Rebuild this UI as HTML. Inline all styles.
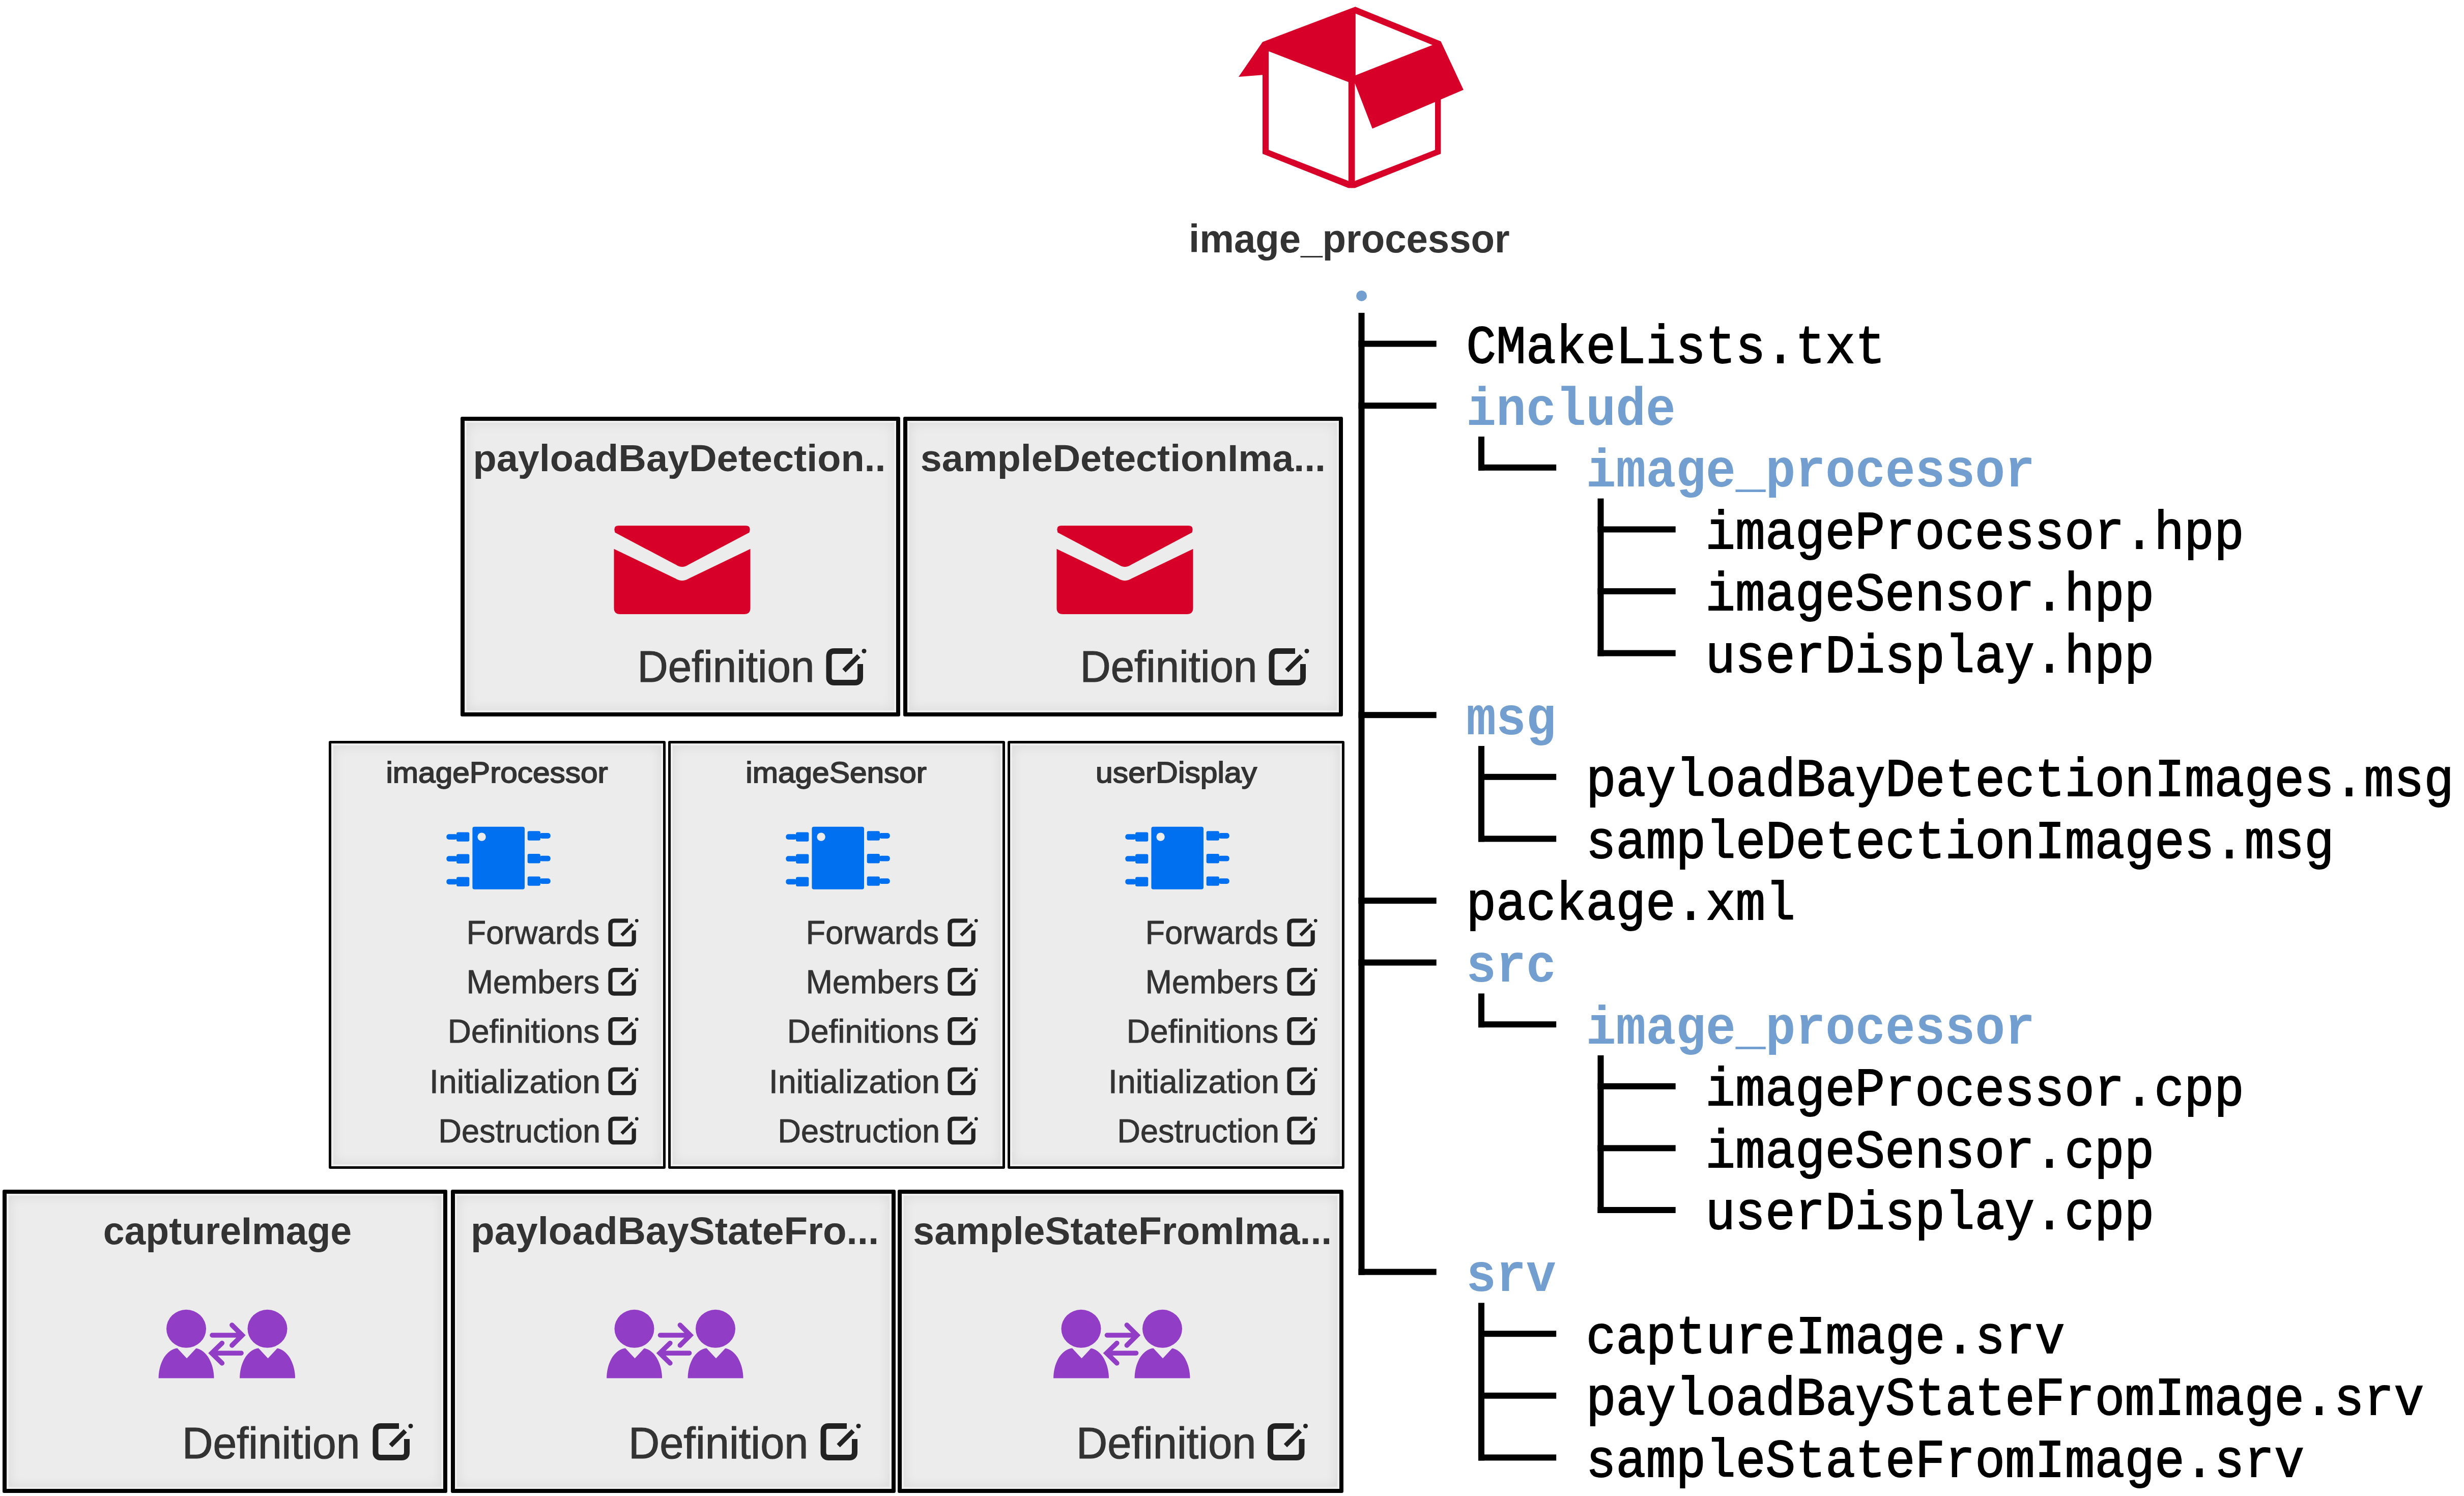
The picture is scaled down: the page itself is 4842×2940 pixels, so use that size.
<!DOCTYPE html>
<html><head><meta charset="utf-8"><style>
html,body{margin:0;padding:0;background:#fff;overflow:hidden;}
body{width:4842px;height:2940px;position:relative;overflow:hidden;}
.bx{position:absolute;box-sizing:border-box;border-style:solid;border-color:#000;border-radius:3px;background:#ececec;
box-shadow: inset 0 0 0 4px #eeeeee, inset 0 0 22px 6px rgba(0,0,0,0.07);}
svg{position:absolute;left:0;top:0;}
</style></head><body>
<div class="bx" style="left:905.0px;top:819.0px;width:864.0px;height:589.0px;border-width:8px"></div><div class="bx" style="left:1775.0px;top:819.0px;width:864.0px;height:589.0px;border-width:8px"></div><div class="bx" style="left:646.0px;top:1456.0px;width:662.0px;height:841.0px;border-width:5.5px"></div><div class="bx" style="left:1313.0px;top:1456.0px;width:662.0px;height:841.0px;border-width:5.5px"></div><div class="bx" style="left:1980.0px;top:1456.0px;width:662.0px;height:841.0px;border-width:5.5px"></div><div class="bx" style="left:5.0px;top:2338.0px;width:874.0px;height:595.5px;border-width:8px"></div><div class="bx" style="left:886.0px;top:2338.0px;width:874.0px;height:595.5px;border-width:8px"></div><div class="bx" style="left:1764.0px;top:2338.0px;width:875.5px;height:595.5px;border-width:8px"></div>
<svg width="4842" height="2940" viewBox="0 0 4842 2940">
<polygon points="2663.3,13.2 2831.4,81.3 2875.9,176.5 2831.4,195.6 2831.4,302.2 2662.5,369.5 2649.8,369.5 2481.0,302.2 2481.0,147.3 2434.0,151.1 2481.0,82.5" fill="#d70029"/>
<polygon points="2493.1,100.8 2649.8,161.3 2649.8,355.6 2493.1,294.6" fill="#fff"/>
<polygon points="2663.8,26.7 2814.9,88.4 2663.8,148.1" fill="#fff"/>
<polygon points="2662.5,163.8 2696.8,252.7 2820.0,200.6 2820.0,294.6 2662.5,355.6" fill="#fff"/>
<text x="2336.07" y="496.30" font-family="Liberation Sans" font-weight="bold" font-size="78" fill="#333" textLength="630.64" lengthAdjust="spacingAndGlyphs">image_processor</text>
<circle cx="2675.6" cy="581.4" r="10.5" fill="#729fcf"/>
<rect x="2669.5" y="614.8" width="12" height="1890.8" fill="#000"/>
<rect x="2905.0" y="858.0" width="12" height="66.8" fill="#000"/>
<rect x="3139.5" y="979.6" width="12" height="310.0" fill="#000"/>
<rect x="2905.0" y="1466.0" width="12" height="188.4" fill="#000"/>
<rect x="2905.0" y="1952.4" width="12" height="66.8" fill="#000"/>
<rect x="3139.5" y="2074.0" width="12" height="310.0" fill="#000"/>
<rect x="2905.0" y="2560.4" width="12" height="310.0" fill="#000"/>
<rect x="2669.5" y="669.6" width="153.2" height="12" fill="#000"/>
<text x="2881.30" y="713.00" font-family="Liberation Mono" font-weight="normal" font-size="106" fill="#000" textLength="823.20" lengthAdjust="spacingAndGlyphs" stroke="#000" stroke-width="1.8">CMakeLists.txt</text>
<rect x="2669.5" y="791.2" width="153.2" height="12" fill="#000"/>
<text x="2881.30" y="834.60" font-family="Liberation Mono" font-weight="bold" font-size="106" fill="#729fcf" textLength="411.60" lengthAdjust="spacingAndGlyphs">include</text>
<rect x="2905.0" y="912.8" width="153.2" height="12" fill="#000"/>
<text x="3116.80" y="956.20" font-family="Liberation Mono" font-weight="bold" font-size="106" fill="#729fcf" textLength="882.00" lengthAdjust="spacingAndGlyphs">image_processor</text>
<rect x="3139.5" y="1034.4" width="153.2" height="12" fill="#000"/>
<text x="3351.30" y="1077.80" font-family="Liberation Mono" font-weight="normal" font-size="106" fill="#000" textLength="1058.40" lengthAdjust="spacingAndGlyphs" stroke="#000" stroke-width="1.8">imageProcessor.hpp</text>
<rect x="3139.5" y="1156.0" width="153.2" height="12" fill="#000"/>
<text x="3351.30" y="1199.40" font-family="Liberation Mono" font-weight="normal" font-size="106" fill="#000" textLength="882.00" lengthAdjust="spacingAndGlyphs" stroke="#000" stroke-width="1.8">imageSensor.hpp</text>
<rect x="3139.5" y="1277.6" width="153.2" height="12" fill="#000"/>
<text x="3351.30" y="1321.00" font-family="Liberation Mono" font-weight="normal" font-size="106" fill="#000" textLength="882.00" lengthAdjust="spacingAndGlyphs" stroke="#000" stroke-width="1.8">userDisplay.hpp</text>
<rect x="2669.5" y="1399.2" width="153.2" height="12" fill="#000"/>
<text x="2881.30" y="1442.60" font-family="Liberation Mono" font-weight="bold" font-size="106" fill="#729fcf" textLength="176.40" lengthAdjust="spacingAndGlyphs">msg</text>
<rect x="2905.0" y="1520.8" width="153.2" height="12" fill="#000"/>
<text x="3116.80" y="1564.20" font-family="Liberation Mono" font-weight="normal" font-size="106" fill="#000" textLength="1705.20" lengthAdjust="spacingAndGlyphs" stroke="#000" stroke-width="1.8">payloadBayDetectionImages.msg</text>
<rect x="2905.0" y="1642.4" width="153.2" height="12" fill="#000"/>
<text x="3116.80" y="1685.80" font-family="Liberation Mono" font-weight="normal" font-size="106" fill="#000" textLength="1470.00" lengthAdjust="spacingAndGlyphs" stroke="#000" stroke-width="1.8">sampleDetectionImages.msg</text>
<rect x="2669.5" y="1764.0" width="153.2" height="12" fill="#000"/>
<text x="2881.30" y="1807.40" font-family="Liberation Mono" font-weight="normal" font-size="106" fill="#000" textLength="646.80" lengthAdjust="spacingAndGlyphs" stroke="#000" stroke-width="1.8">package.xml</text>
<rect x="2669.5" y="1885.6" width="153.2" height="12" fill="#000"/>
<text x="2881.30" y="1929.00" font-family="Liberation Mono" font-weight="bold" font-size="106" fill="#729fcf" textLength="176.40" lengthAdjust="spacingAndGlyphs">src</text>
<rect x="2905.0" y="2007.2" width="153.2" height="12" fill="#000"/>
<text x="3116.80" y="2050.60" font-family="Liberation Mono" font-weight="bold" font-size="106" fill="#729fcf" textLength="882.00" lengthAdjust="spacingAndGlyphs">image_processor</text>
<rect x="3139.5" y="2128.8" width="153.2" height="12" fill="#000"/>
<text x="3351.30" y="2172.20" font-family="Liberation Mono" font-weight="normal" font-size="106" fill="#000" textLength="1058.40" lengthAdjust="spacingAndGlyphs" stroke="#000" stroke-width="1.8">imageProcessor.cpp</text>
<rect x="3139.5" y="2250.4" width="153.2" height="12" fill="#000"/>
<text x="3351.30" y="2293.80" font-family="Liberation Mono" font-weight="normal" font-size="106" fill="#000" textLength="882.00" lengthAdjust="spacingAndGlyphs" stroke="#000" stroke-width="1.8">imageSensor.cpp</text>
<rect x="3139.5" y="2372.0" width="153.2" height="12" fill="#000"/>
<text x="3351.30" y="2415.40" font-family="Liberation Mono" font-weight="normal" font-size="106" fill="#000" textLength="882.00" lengthAdjust="spacingAndGlyphs" stroke="#000" stroke-width="1.8">userDisplay.cpp</text>
<rect x="2669.5" y="2493.6" width="153.2" height="12" fill="#000"/>
<text x="2881.30" y="2537.00" font-family="Liberation Mono" font-weight="bold" font-size="106" fill="#729fcf" textLength="176.40" lengthAdjust="spacingAndGlyphs">srv</text>
<rect x="2905.0" y="2615.2" width="153.2" height="12" fill="#000"/>
<text x="3116.80" y="2658.60" font-family="Liberation Mono" font-weight="normal" font-size="106" fill="#000" textLength="940.80" lengthAdjust="spacingAndGlyphs" stroke="#000" stroke-width="1.8">captureImage.srv</text>
<rect x="2905.0" y="2736.8" width="153.2" height="12" fill="#000"/>
<text x="3116.80" y="2780.20" font-family="Liberation Mono" font-weight="normal" font-size="106" fill="#000" textLength="1646.40" lengthAdjust="spacingAndGlyphs" stroke="#000" stroke-width="1.8">payloadBayStateFromImage.srv</text>
<rect x="2905.0" y="2858.4" width="153.2" height="12" fill="#000"/>
<text x="3116.80" y="2901.80" font-family="Liberation Mono" font-weight="normal" font-size="106" fill="#000" textLength="1411.20" lengthAdjust="spacingAndGlyphs" stroke="#000" stroke-width="1.8">sampleStateFromImage.srv</text>
<text x="929.48" y="925.50" font-family="Liberation Sans" font-weight="bold" font-size="74" fill="#333" textLength="811.16" lengthAdjust="spacingAndGlyphs">payloadBayDetection..</text>
<path d="M1215.5,1033 H1465.5 Q1474.5,1033 1473.5,1042 L1472.5,1046.6 L1352.5,1110 Q1340.5,1118 1328.5,1110 L1208.5,1046.6 L1207.5,1042 Q1206.5,1033 1215.5,1033 Z" fill="#d70029"/>
<path d="M1206.5,1078.7 L1327.5,1137 Q1340.5,1145 1353.5,1137 L1474.5,1078.7 V1195 Q1474.5,1207 1462.5,1207 H1218.5 Q1206.5,1207 1206.5,1195 Z" fill="#d70029"/>
<text x="1252.41" y="1340.30" font-family="Liberation Sans" font-weight="normal" font-size="87" fill="#333" textLength="347.94" lengthAdjust="spacingAndGlyphs" stroke="#333" stroke-width="1.2">Definition</text>
<g transform="translate(1623.5,1274.0) scale(1.0)" fill="none" stroke="#222"><path d="M51.5,5.5 H16 Q5.5,5.5 5.5,16 V57 Q5.5,67.5 16,67.5 H56.5 Q67,67.5 67,57 V31" stroke-width="11"/><path d="M35,44 L64,15" stroke-width="9"/><circle cx="74.5" cy="5.5" r="4.5" fill="#222" stroke="none"/></g>
<text x="1808.76" y="925.50" font-family="Liberation Sans" font-weight="bold" font-size="74" fill="#333" textLength="796.29" lengthAdjust="spacingAndGlyphs">sampleDetectionIma...</text>
<path d="M2085.5,1033 H2335.5 Q2344.5,1033 2343.5,1042 L2342.5,1046.6 L2222.5,1110 Q2210.5,1118 2198.5,1110 L2078.5,1046.6 L2077.5,1042 Q2076.5,1033 2085.5,1033 Z" fill="#d70029"/>
<path d="M2076.5,1078.7 L2197.5,1137 Q2210.5,1145 2223.5,1137 L2344.5,1078.7 V1195 Q2344.5,1207 2332.5,1207 H2088.5 Q2076.5,1207 2076.5,1195 Z" fill="#d70029"/>
<text x="2122.41" y="1340.30" font-family="Liberation Sans" font-weight="normal" font-size="87" fill="#333" textLength="347.94" lengthAdjust="spacingAndGlyphs" stroke="#333" stroke-width="1.2">Definition</text>
<g transform="translate(2493.5,1274.0) scale(1.0)" fill="none" stroke="#222"><path d="M51.5,5.5 H16 Q5.5,5.5 5.5,16 V57 Q5.5,67.5 16,67.5 H56.5 Q67,67.5 67,57 V31" stroke-width="11"/><path d="M35,44 L64,15" stroke-width="9"/><circle cx="74.5" cy="5.5" r="4.5" fill="#222" stroke="none"/></g>
<text x="758.42" y="1537.50" font-family="Liberation Sans" font-weight="normal" font-size="57" fill="#333" textLength="436.30" lengthAdjust="spacingAndGlyphs" stroke="#333" stroke-width="1.8">imageProcessor</text>
<rect x="928.4" y="1624.7" width="102.6" height="123.1" rx="4" fill="#0070f0"/>
<circle cx="946.6" cy="1644.6" r="8.2" fill="#ececec"/>
<rect x="877.3" y="1639.1999999999998" width="22" height="10.8" rx="5" fill="#0070f0"/>
<rect x="897.1" y="1635.3999999999999" width="25.2" height="18.4" rx="3" fill="#0070f0"/>
<rect x="877.3" y="1682.3" width="22" height="10.8" rx="5" fill="#0070f0"/>
<rect x="897.1" y="1678.5" width="25.2" height="18.4" rx="3" fill="#0070f0"/>
<rect x="877.3" y="1727.3999999999999" width="22" height="10.8" rx="5" fill="#0070f0"/>
<rect x="897.1" y="1723.6" width="25.2" height="18.4" rx="3" fill="#0070f0"/>
<rect x="1060" y="1637.1" width="21.8" height="10.8" rx="5" fill="#0070f0"/>
<rect x="1036.7" y="1633.3" width="25.2" height="18.4" rx="3" fill="#0070f0"/>
<rect x="1060" y="1681.8" width="21.8" height="10.8" rx="5" fill="#0070f0"/>
<rect x="1036.7" y="1678.0" width="25.2" height="18.4" rx="3" fill="#0070f0"/>
<rect x="1060" y="1726.1999999999998" width="21.8" height="10.8" rx="5" fill="#0070f0"/>
<rect x="1036.7" y="1722.3999999999999" width="25.2" height="18.4" rx="3" fill="#0070f0"/>
<text x="916.83" y="1855.20" font-family="Liberation Sans" font-weight="normal" font-size="65" fill="#333" textLength="261.37" lengthAdjust="spacingAndGlyphs" stroke="#333" stroke-width="1.0">Forwards</text>
<g transform="translate(1195.4,1805.2) scale(0.75)" fill="none" stroke="#222"><path d="M51.5,5.5 H16 Q5.5,5.5 5.5,16 V57 Q5.5,67.5 16,67.5 H56.5 Q67,67.5 67,57 V31" stroke-width="11"/><path d="M35,44 L64,15" stroke-width="9"/><circle cx="74.5" cy="5.5" r="4.5" fill="#222" stroke="none"/></g>
<text x="916.83" y="1952.00" font-family="Liberation Sans" font-weight="normal" font-size="65" fill="#333" textLength="261.37" lengthAdjust="spacingAndGlyphs" stroke="#333" stroke-width="1.0">Members</text>
<g transform="translate(1195.4,1902.0) scale(0.75)" fill="none" stroke="#222"><path d="M51.5,5.5 H16 Q5.5,5.5 5.5,16 V57 Q5.5,67.5 16,67.5 H56.5 Q67,67.5 67,57 V31" stroke-width="11"/><path d="M35,44 L64,15" stroke-width="9"/><circle cx="74.5" cy="5.5" r="4.5" fill="#222" stroke="none"/></g>
<text x="879.73" y="2049.00" font-family="Liberation Sans" font-weight="normal" font-size="65" fill="#333" textLength="298.46" lengthAdjust="spacingAndGlyphs" stroke="#333" stroke-width="1.0">Definitions</text>
<g transform="translate(1195.4,1999.0) scale(0.75)" fill="none" stroke="#222"><path d="M51.5,5.5 H16 Q5.5,5.5 5.5,16 V57 Q5.5,67.5 16,67.5 H56.5 Q67,67.5 67,57 V31" stroke-width="11"/><path d="M35,44 L64,15" stroke-width="9"/><circle cx="74.5" cy="5.5" r="4.5" fill="#222" stroke="none"/></g>
<text x="844.05" y="2147.60" font-family="Liberation Sans" font-weight="normal" font-size="65" fill="#333" textLength="335.99" lengthAdjust="spacingAndGlyphs" stroke="#333" stroke-width="1.0">Initialization</text>
<g transform="translate(1195.4,2097.6) scale(0.75)" fill="none" stroke="#222"><path d="M51.5,5.5 H16 Q5.5,5.5 5.5,16 V57 Q5.5,67.5 16,67.5 H56.5 Q67,67.5 67,57 V31" stroke-width="11"/><path d="M35,44 L64,15" stroke-width="9"/><circle cx="74.5" cy="5.5" r="4.5" fill="#222" stroke="none"/></g>
<text x="861.61" y="2244.60" font-family="Liberation Sans" font-weight="normal" font-size="65" fill="#333" textLength="318.34" lengthAdjust="spacingAndGlyphs" stroke="#333" stroke-width="1.0">Destruction</text>
<g transform="translate(1195.4,2194.6) scale(0.75)" fill="none" stroke="#222"><path d="M51.5,5.5 H16 Q5.5,5.5 5.5,16 V57 Q5.5,67.5 16,67.5 H56.5 Q67,67.5 67,57 V31" stroke-width="11"/><path d="M35,44 L64,15" stroke-width="9"/><circle cx="74.5" cy="5.5" r="4.5" fill="#222" stroke="none"/></g>
<text x="1465.33" y="1537.50" font-family="Liberation Sans" font-weight="normal" font-size="57" fill="#333" textLength="355.56" lengthAdjust="spacingAndGlyphs" stroke="#333" stroke-width="1.8">imageSensor</text>
<rect x="1595.4" y="1624.7" width="102.6" height="123.1" rx="4" fill="#0070f0"/>
<circle cx="1613.6" cy="1644.6" r="8.2" fill="#ececec"/>
<rect x="1544.3" y="1639.1999999999998" width="22" height="10.8" rx="5" fill="#0070f0"/>
<rect x="1564.1" y="1635.3999999999999" width="25.2" height="18.4" rx="3" fill="#0070f0"/>
<rect x="1544.3" y="1682.3" width="22" height="10.8" rx="5" fill="#0070f0"/>
<rect x="1564.1" y="1678.5" width="25.2" height="18.4" rx="3" fill="#0070f0"/>
<rect x="1544.3" y="1727.3999999999999" width="22" height="10.8" rx="5" fill="#0070f0"/>
<rect x="1564.1" y="1723.6" width="25.2" height="18.4" rx="3" fill="#0070f0"/>
<rect x="1727" y="1637.1" width="21.8" height="10.8" rx="5" fill="#0070f0"/>
<rect x="1703.7" y="1633.3" width="25.2" height="18.4" rx="3" fill="#0070f0"/>
<rect x="1727" y="1681.8" width="21.8" height="10.8" rx="5" fill="#0070f0"/>
<rect x="1703.7" y="1678.0" width="25.2" height="18.4" rx="3" fill="#0070f0"/>
<rect x="1727" y="1726.1999999999998" width="21.8" height="10.8" rx="5" fill="#0070f0"/>
<rect x="1703.7" y="1722.3999999999999" width="25.2" height="18.4" rx="3" fill="#0070f0"/>
<text x="1583.83" y="1855.20" font-family="Liberation Sans" font-weight="normal" font-size="65" fill="#333" textLength="261.37" lengthAdjust="spacingAndGlyphs" stroke="#333" stroke-width="1.0">Forwards</text>
<g transform="translate(1862.4,1805.2) scale(0.75)" fill="none" stroke="#222"><path d="M51.5,5.5 H16 Q5.5,5.5 5.5,16 V57 Q5.5,67.5 16,67.5 H56.5 Q67,67.5 67,57 V31" stroke-width="11"/><path d="M35,44 L64,15" stroke-width="9"/><circle cx="74.5" cy="5.5" r="4.5" fill="#222" stroke="none"/></g>
<text x="1583.83" y="1952.00" font-family="Liberation Sans" font-weight="normal" font-size="65" fill="#333" textLength="261.37" lengthAdjust="spacingAndGlyphs" stroke="#333" stroke-width="1.0">Members</text>
<g transform="translate(1862.4,1902.0) scale(0.75)" fill="none" stroke="#222"><path d="M51.5,5.5 H16 Q5.5,5.5 5.5,16 V57 Q5.5,67.5 16,67.5 H56.5 Q67,67.5 67,57 V31" stroke-width="11"/><path d="M35,44 L64,15" stroke-width="9"/><circle cx="74.5" cy="5.5" r="4.5" fill="#222" stroke="none"/></g>
<text x="1546.73" y="2049.00" font-family="Liberation Sans" font-weight="normal" font-size="65" fill="#333" textLength="298.46" lengthAdjust="spacingAndGlyphs" stroke="#333" stroke-width="1.0">Definitions</text>
<g transform="translate(1862.4,1999.0) scale(0.75)" fill="none" stroke="#222"><path d="M51.5,5.5 H16 Q5.5,5.5 5.5,16 V57 Q5.5,67.5 16,67.5 H56.5 Q67,67.5 67,57 V31" stroke-width="11"/><path d="M35,44 L64,15" stroke-width="9"/><circle cx="74.5" cy="5.5" r="4.5" fill="#222" stroke="none"/></g>
<text x="1511.05" y="2147.60" font-family="Liberation Sans" font-weight="normal" font-size="65" fill="#333" textLength="335.99" lengthAdjust="spacingAndGlyphs" stroke="#333" stroke-width="1.0">Initialization</text>
<g transform="translate(1862.4,2097.6) scale(0.75)" fill="none" stroke="#222"><path d="M51.5,5.5 H16 Q5.5,5.5 5.5,16 V57 Q5.5,67.5 16,67.5 H56.5 Q67,67.5 67,57 V31" stroke-width="11"/><path d="M35,44 L64,15" stroke-width="9"/><circle cx="74.5" cy="5.5" r="4.5" fill="#222" stroke="none"/></g>
<text x="1528.61" y="2244.60" font-family="Liberation Sans" font-weight="normal" font-size="65" fill="#333" textLength="318.34" lengthAdjust="spacingAndGlyphs" stroke="#333" stroke-width="1.0">Destruction</text>
<g transform="translate(1862.4,2194.6) scale(0.75)" fill="none" stroke="#222"><path d="M51.5,5.5 H16 Q5.5,5.5 5.5,16 V57 Q5.5,67.5 16,67.5 H56.5 Q67,67.5 67,57 V31" stroke-width="11"/><path d="M35,44 L64,15" stroke-width="9"/><circle cx="74.5" cy="5.5" r="4.5" fill="#222" stroke="none"/></g>
<text x="2153.06" y="1537.50" font-family="Liberation Sans" font-weight="normal" font-size="57" fill="#333" textLength="317.05" lengthAdjust="spacingAndGlyphs" stroke="#333" stroke-width="1.8">userDisplay</text>
<rect x="2262.4" y="1624.7" width="102.6" height="123.1" rx="4" fill="#0070f0"/>
<circle cx="2280.6" cy="1644.6" r="8.2" fill="#ececec"/>
<rect x="2211.3" y="1639.1999999999998" width="22" height="10.8" rx="5" fill="#0070f0"/>
<rect x="2231.1" y="1635.3999999999999" width="25.2" height="18.4" rx="3" fill="#0070f0"/>
<rect x="2211.3" y="1682.3" width="22" height="10.8" rx="5" fill="#0070f0"/>
<rect x="2231.1" y="1678.5" width="25.2" height="18.4" rx="3" fill="#0070f0"/>
<rect x="2211.3" y="1727.3999999999999" width="22" height="10.8" rx="5" fill="#0070f0"/>
<rect x="2231.1" y="1723.6" width="25.2" height="18.4" rx="3" fill="#0070f0"/>
<rect x="2394" y="1637.1" width="21.8" height="10.8" rx="5" fill="#0070f0"/>
<rect x="2370.7" y="1633.3" width="25.2" height="18.4" rx="3" fill="#0070f0"/>
<rect x="2394" y="1681.8" width="21.8" height="10.8" rx="5" fill="#0070f0"/>
<rect x="2370.7" y="1678.0" width="25.2" height="18.4" rx="3" fill="#0070f0"/>
<rect x="2394" y="1726.1999999999998" width="21.8" height="10.8" rx="5" fill="#0070f0"/>
<rect x="2370.7" y="1722.3999999999999" width="25.2" height="18.4" rx="3" fill="#0070f0"/>
<text x="2250.83" y="1855.20" font-family="Liberation Sans" font-weight="normal" font-size="65" fill="#333" textLength="261.37" lengthAdjust="spacingAndGlyphs" stroke="#333" stroke-width="1.0">Forwards</text>
<g transform="translate(2529.4,1805.2) scale(0.75)" fill="none" stroke="#222"><path d="M51.5,5.5 H16 Q5.5,5.5 5.5,16 V57 Q5.5,67.5 16,67.5 H56.5 Q67,67.5 67,57 V31" stroke-width="11"/><path d="M35,44 L64,15" stroke-width="9"/><circle cx="74.5" cy="5.5" r="4.5" fill="#222" stroke="none"/></g>
<text x="2250.83" y="1952.00" font-family="Liberation Sans" font-weight="normal" font-size="65" fill="#333" textLength="261.37" lengthAdjust="spacingAndGlyphs" stroke="#333" stroke-width="1.0">Members</text>
<g transform="translate(2529.4,1902.0) scale(0.75)" fill="none" stroke="#222"><path d="M51.5,5.5 H16 Q5.5,5.5 5.5,16 V57 Q5.5,67.5 16,67.5 H56.5 Q67,67.5 67,57 V31" stroke-width="11"/><path d="M35,44 L64,15" stroke-width="9"/><circle cx="74.5" cy="5.5" r="4.5" fill="#222" stroke="none"/></g>
<text x="2213.73" y="2049.00" font-family="Liberation Sans" font-weight="normal" font-size="65" fill="#333" textLength="298.46" lengthAdjust="spacingAndGlyphs" stroke="#333" stroke-width="1.0">Definitions</text>
<g transform="translate(2529.4,1999.0) scale(0.75)" fill="none" stroke="#222"><path d="M51.5,5.5 H16 Q5.5,5.5 5.5,16 V57 Q5.5,67.5 16,67.5 H56.5 Q67,67.5 67,57 V31" stroke-width="11"/><path d="M35,44 L64,15" stroke-width="9"/><circle cx="74.5" cy="5.5" r="4.5" fill="#222" stroke="none"/></g>
<text x="2178.05" y="2147.60" font-family="Liberation Sans" font-weight="normal" font-size="65" fill="#333" textLength="335.99" lengthAdjust="spacingAndGlyphs" stroke="#333" stroke-width="1.0">Initialization</text>
<g transform="translate(2529.4,2097.6) scale(0.75)" fill="none" stroke="#222"><path d="M51.5,5.5 H16 Q5.5,5.5 5.5,16 V57 Q5.5,67.5 16,67.5 H56.5 Q67,67.5 67,57 V31" stroke-width="11"/><path d="M35,44 L64,15" stroke-width="9"/><circle cx="74.5" cy="5.5" r="4.5" fill="#222" stroke="none"/></g>
<text x="2195.61" y="2244.60" font-family="Liberation Sans" font-weight="normal" font-size="65" fill="#333" textLength="318.34" lengthAdjust="spacingAndGlyphs" stroke="#333" stroke-width="1.0">Destruction</text>
<g transform="translate(2529.4,2194.6) scale(0.75)" fill="none" stroke="#222"><path d="M51.5,5.5 H16 Q5.5,5.5 5.5,16 V57 Q5.5,67.5 16,67.5 H56.5 Q67,67.5 67,57 V31" stroke-width="11"/><path d="M35,44 L64,15" stroke-width="9"/><circle cx="74.5" cy="5.5" r="4.5" fill="#222" stroke="none"/></g>
<text x="202.80" y="2445.00" font-family="Liberation Sans" font-weight="bold" font-size="76" fill="#333" textLength="488.26" lengthAdjust="spacingAndGlyphs">captureImage</text>
<path d="M311.6,2708.5 C311.6,2681.8 324.4,2652.5 348.7,2649.5 L384.0,2649.5 C407.1,2652.5 420.5,2681.8 420.5,2708.5 Z" fill="#923dc6"/>
<path d="M347.0,2648 L367.0,2669.5 L387.0,2648 Z" fill="#ececec"/>
<circle cx="366.0" cy="2611.3" r="42" fill="#ececec"/>
<ellipse cx="366.0" cy="2611.3" rx="39" ry="37.5" fill="#923dc6"/>
<path d="M471.1,2708.5 C471.1,2681.8 483.9,2652.5 508.2,2649.5 L543.5,2649.5 C566.6,2652.5 580.0,2681.8 580.0,2708.5 Z" fill="#923dc6"/>
<path d="M506.5,2648 L526.5,2669.5 L546.5,2648 Z" fill="#ececec"/>
<circle cx="525.5" cy="2611.3" r="42" fill="#ececec"/>
<ellipse cx="525.5" cy="2611.3" rx="39" ry="37.5" fill="#923dc6"/>
<g fill="none" stroke-linecap="round" stroke-linejoin="miter"><path d="M474.1,2659.2 H416 M436.4,2639.5 L416,2659.2 L436.4,2679" stroke="#ececec" stroke-width="17"/><path d="M416.9,2624 H475.5 M455.8,2604 L476,2624 L455.8,2644" stroke="#923dc6" stroke-width="9.5"/><path d="M474.1,2659.2 H416 M436.4,2639.5 L416,2659.2 L436.4,2679" stroke="#923dc6" stroke-width="9.5"/></g>
<text x="357.88" y="2865.70" font-family="Liberation Sans" font-weight="normal" font-size="87" fill="#333" textLength="349.49" lengthAdjust="spacingAndGlyphs" stroke="#333" stroke-width="1.2">Definition</text>
<g transform="translate(732.5,2797.0) scale(1.0)" fill="none" stroke="#222"><path d="M51.5,5.5 H16 Q5.5,5.5 5.5,16 V57 Q5.5,67.5 16,67.5 H56.5 Q67,67.5 67,57 V31" stroke-width="11"/><path d="M35,44 L64,15" stroke-width="9"/><circle cx="74.5" cy="5.5" r="4.5" fill="#222" stroke="none"/></g>
<text x="925.04" y="2445.00" font-family="Liberation Sans" font-weight="bold" font-size="76" fill="#333" textLength="802.18" lengthAdjust="spacingAndGlyphs">payloadBayStateFro...</text>
<path d="M1192.1,2708.5 C1192.1,2681.8 1204.9,2652.5 1229.2,2649.5 L1264.5,2649.5 C1287.6,2652.5 1301.0,2681.8 1301.0,2708.5 Z" fill="#923dc6"/>
<path d="M1227.5,2648 L1247.5,2669.5 L1267.5,2648 Z" fill="#ececec"/>
<circle cx="1246.5" cy="2611.3" r="42" fill="#ececec"/>
<ellipse cx="1246.5" cy="2611.3" rx="39" ry="37.5" fill="#923dc6"/>
<path d="M1351.6,2708.5 C1351.6,2681.8 1364.4,2652.5 1388.7,2649.5 L1424.0,2649.5 C1447.1,2652.5 1460.5,2681.8 1460.5,2708.5 Z" fill="#923dc6"/>
<path d="M1387.0,2648 L1407.0,2669.5 L1427.0,2648 Z" fill="#ececec"/>
<circle cx="1406.0" cy="2611.3" r="42" fill="#ececec"/>
<ellipse cx="1406.0" cy="2611.3" rx="39" ry="37.5" fill="#923dc6"/>
<g fill="none" stroke-linecap="round" stroke-linejoin="miter"><path d="M1354.6,2659.2 H1296.5 M1316.9,2639.5 L1296.5,2659.2 L1316.9,2679" stroke="#ececec" stroke-width="17"/><path d="M1297.4,2624 H1356.0 M1336.3,2604 L1356.5,2624 L1336.3,2644" stroke="#923dc6" stroke-width="9.5"/><path d="M1354.6,2659.2 H1296.5 M1316.9,2639.5 L1296.5,2659.2 L1316.9,2679" stroke="#923dc6" stroke-width="9.5"/></g>
<text x="1235.01" y="2865.70" font-family="Liberation Sans" font-weight="normal" font-size="87" fill="#333" textLength="353.43" lengthAdjust="spacingAndGlyphs" stroke="#333" stroke-width="1.2">Definition</text>
<g transform="translate(1612.5,2797.0) scale(1.0)" fill="none" stroke="#222"><path d="M51.5,5.5 H16 Q5.5,5.5 5.5,16 V57 Q5.5,67.5 16,67.5 H56.5 Q67,67.5 67,57 V31" stroke-width="11"/><path d="M35,44 L64,15" stroke-width="9"/><circle cx="74.5" cy="5.5" r="4.5" fill="#222" stroke="none"/></g>
<text x="1794.37" y="2445.00" font-family="Liberation Sans" font-weight="bold" font-size="76" fill="#333" textLength="822.79" lengthAdjust="spacingAndGlyphs">sampleStateFromIma...</text>
<path d="M2070.1,2708.5 C2070.1,2681.8 2082.9,2652.5 2107.2,2649.5 L2142.5,2649.5 C2165.6,2652.5 2179.0,2681.8 2179.0,2708.5 Z" fill="#923dc6"/>
<path d="M2105.5,2648 L2125.5,2669.5 L2145.5,2648 Z" fill="#ececec"/>
<circle cx="2124.5" cy="2611.3" r="42" fill="#ececec"/>
<ellipse cx="2124.5" cy="2611.3" rx="39" ry="37.5" fill="#923dc6"/>
<path d="M2229.6,2708.5 C2229.6,2681.8 2242.4,2652.5 2266.7,2649.5 L2302.0,2649.5 C2325.1,2652.5 2338.5,2681.8 2338.5,2708.5 Z" fill="#923dc6"/>
<path d="M2265.0,2648 L2285.0,2669.5 L2305.0,2648 Z" fill="#ececec"/>
<circle cx="2284.0" cy="2611.3" r="42" fill="#ececec"/>
<ellipse cx="2284.0" cy="2611.3" rx="39" ry="37.5" fill="#923dc6"/>
<g fill="none" stroke-linecap="round" stroke-linejoin="miter"><path d="M2232.6,2659.2 H2174.5 M2194.9,2639.5 L2174.5,2659.2 L2194.9,2679" stroke="#ececec" stroke-width="17"/><path d="M2175.4,2624 H2234.0 M2214.3,2604 L2234.5,2624 L2214.3,2644" stroke="#923dc6" stroke-width="9.5"/><path d="M2232.6,2659.2 H2174.5 M2194.9,2639.5 L2174.5,2659.2 L2194.9,2679" stroke="#923dc6" stroke-width="9.5"/></g>
<text x="2115.01" y="2865.70" font-family="Liberation Sans" font-weight="normal" font-size="87" fill="#333" textLength="353.43" lengthAdjust="spacingAndGlyphs" stroke="#333" stroke-width="1.2">Definition</text>
<g transform="translate(2491.0,2797.0) scale(1.0)" fill="none" stroke="#222"><path d="M51.5,5.5 H16 Q5.5,5.5 5.5,16 V57 Q5.5,67.5 16,67.5 H56.5 Q67,67.5 67,57 V31" stroke-width="11"/><path d="M35,44 L64,15" stroke-width="9"/><circle cx="74.5" cy="5.5" r="4.5" fill="#222" stroke="none"/></g>
</svg>
</body></html>
